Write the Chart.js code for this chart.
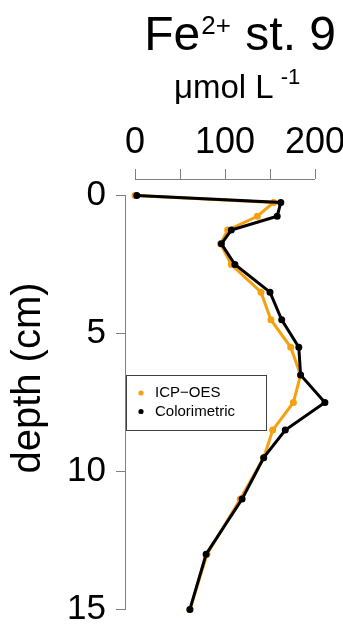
<!DOCTYPE html>
<html>
<head>
<meta charset="utf-8">
<script src="https://cdn.jsdelivr.net/npm/chart.js@4.4.1/dist/chart.umd.min.js"></script>
<style>
  html, body { margin: 0; padding: 0; background: #fff; overflow: hidden; }
  #wrap { width: 343px; height: 626px; }
</style>
</head>
<body>
<div id="wrap"><canvas id="feChart"></canvas></div>
<script>
// depth of each sample (cm)
const depths = [0, 0.25, 0.75, 1.25, 1.75, 2.5, 3.5, 4.5, 5.5, 6.5, 7.5, 8.5, 9.5, 11, 13, 15];
// Fe2+ in umol/L
const icpOes = [0, 154, 136, 103, 95, 107, 140, 151, 173, 184, 176, 153, 143, 117, 80, 61];
const colorimetric = [2, 162, 158, 107, 96, 111, 150, 163, 182, 184, 211, 167, 143, 119, 79, 61];
const xTicks = [0, 50, 100, 150, 200];
const yTicks = [0, 5, 10, 15];

const FONT = "'Liberation Sans', Arial, sans-serif";
const ORANGE = '#F5A10F';

const toPoints = vals => vals.map((v, i) => ({ x: v, y: depths[i] }));

// no extra room for labels hanging past the plot edges
const noPad = s => { s.paddingLeft = s.paddingRight = s.paddingTop = s.paddingBottom = 0; };

// axis lines only span the tick range (R style), plus titles and the boxed legend
const extras = {
    id: 'extras',
    afterDraw(chart) {
        const { ctx, chartArea, scales } = chart;
        const x = scales.x, y = scales.y;
        ctx.save();
        ctx.strokeStyle = '#808080';
        ctx.lineWidth = 1;
        ctx.beginPath();
        ctx.moveTo(x.getPixelForValue(xTicks[0]), chartArea.top + 0.5);
        ctx.lineTo(x.getPixelForValue(xTicks[xTicks.length - 1]), chartArea.top + 0.5);
        ctx.moveTo(chartArea.left - 0.5, y.getPixelForValue(yTicks[0]));
        ctx.lineTo(chartArea.left - 0.5, y.getPixelForValue(yTicks[yTicks.length - 1]));
        ctx.stroke();

        // title with superscript
        ctx.fillStyle = '#000';
        ctx.textBaseline = 'alphabetic';
        ctx.textAlign = 'left';
        const big = '48px ' + FONT, sup = '26px ' + FONT;
        ctx.font = big;
        const wFe = ctx.measureText('Fe').width;
        const wRest = ctx.measureText(' st. 9').width;
        ctx.font = sup;
        const wSup = ctx.measureText('2+').width;
        let tx = 336 - (wFe + wSup + wRest + 2);
        ctx.font = big;
        ctx.fillText('Fe', tx, 50);
        ctx.font = sup;
        ctx.fillText('2+', tx + wFe + 1, 34);
        ctx.font = big;
        ctx.fillText(' st. 9', tx + wFe + wSup + 2, 50);

        // unit line
        ctx.font = '33px ' + FONT;
        ctx.fillText('\u03bcmol L', 174, 98);
        const wU = ctx.measureText('\u03bcmol L').width;
        ctx.font = '22px ' + FONT;
        ctx.fillText('-1', 174 + wU + 7, 84);

        // y axis title
        ctx.save();
        ctx.translate(29, 378);
        ctx.rotate(-Math.PI / 2);
        ctx.font = '40px ' + FONT;
        ctx.textAlign = 'center';
        ctx.textBaseline = 'middle';
        ctx.fillText('depth (cm)', 0, 0);
        ctx.restore();

        // legend
        ctx.strokeStyle = '#404040';
        ctx.strokeRect(126.5, 375.5, 140, 55);
        ctx.font = '15px ' + FONT;
        ctx.textBaseline = 'middle';
        ctx.textAlign = 'left';
        chart.data.datasets.forEach((ds, i) => {
            const ly = 393 + i * 18.5;
            ctx.fillStyle = ds.borderColor;
            ctx.beginPath();
            ctx.arc(141, ly, 2.6, 0, Math.PI * 2);
            ctx.fill();
            ctx.fillStyle = '#000';
            ctx.fillText(ds.label, 155, ly);
        });
        ctx.restore();
    }
};

new Chart(document.getElementById('feChart'), {
    type: 'scatter',
    data: {
        datasets: [
            {
                label: 'ICP\u2212OES',
                data: toPoints(icpOes),
                showLine: true,
                borderColor: ORANGE,
                backgroundColor: ORANGE,
                borderWidth: 3,
                pointRadius: 2,
                clip: false,
                order: 1
            },
            {
                label: 'Colorimetric',
                data: toPoints(colorimetric),
                showLine: true,
                borderColor: '#000',
                backgroundColor: '#000',
                borderWidth: 3,
                pointRadius: 2,
                clip: false,
                order: 0
            }
        ]
    },
    options: {
        responsive: true,
        maintainAspectRatio: false,
        animation: false,
        layout: { autoPadding: false, padding: { top: 0, left: 0, right: 10, bottom: 0 } },
        plugins: {
            legend: { display: false },
            tooltip: { enabled: false }
        },
        scales: {
            x: {
                type: 'linear',
                position: 'top',
                min: -10,
                max: 220,
                afterBuildTicks: s => { s.ticks = xTicks.map(v => ({ value: v })); },
                afterFit: s => { s.height = 179; noPad(s); },
                ticks: {
                    color: '#000',
                    font: { family: FONT, size: 36 },
                    padding: 4,
                    maxRotation: 0,
                    autoSkip: false,
                    callback: v => (v % 100 === 0 ? v : '')
                },
                grid: { drawOnChartArea: false, drawTicks: true, tickLength: 10, color: '#808080' },
                border: { display: false }
            },
            y: {
                type: 'linear',
                reverse: true,
                min: -0.6,
                max: 15.6,
                afterBuildTicks: s => { s.ticks = yTicks.map(v => ({ value: v })); },
                afterFit: s => { s.width = 126; noPad(s); },
                ticks: {
                    color: '#000',
                    font: { family: FONT, size: 35 },
                    padding: 10,
                    autoSkip: false
                },
                grid: { drawOnChartArea: false, drawTicks: true, tickLength: 10, color: '#808080' },
                border: { display: false }
            }
        }
    },
    plugins: [extras]
});
</script>
</body>
</html>
